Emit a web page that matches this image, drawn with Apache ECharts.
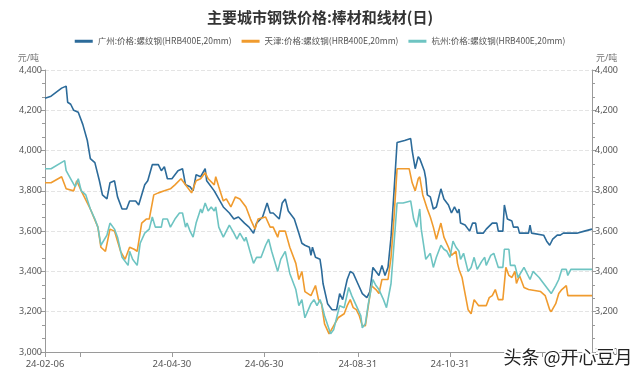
<!DOCTYPE html>
<html><head><meta charset="utf-8">
<script src="https://cdn.jsdelivr.net/npm/echarts@6/dist/echarts.min.js"></script>
<style>html,body{margin:0;padding:0;background:#fff}#c{width:640px;height:380px}</style>
</head><body><div id="c"></div>
<script>
const titleText = '主要城市钢铁价格:棒材和线材(日)';
const seriesNames = ['广州:价格:螺纹钢(HRB400E,20mm)', '天津:价格:螺纹钢(HRB400E,20mm)', '杭州:价格:螺纹钢(HRB400E,20mm)'];
const seriesColors = ['#2c6b9a', '#f09b2e', '#6ec4c2'];
const startDate = '2024-02-06';
const endDate = '2025-02-02';
const labelDates = ['2024-02-06', '2024-04-30', '2024-06-30', '2024-08-31', '2024-10-31'];
const tickDates = ['2024-02-06', '2024-02-29', '2024-04-30', '2024-06-30', '2024-08-31', '2024-10-31', '2024-12-31'];
const yTicks = [3000, 3200, 3400, 3600, 3800, 4000, 4200, 4400];

const guangzhou = [['2024-02-06',4260],['2024-02-10',4270],['2024-02-17',4310],['2024-02-20',4320],['2024-02-21',4240],['2024-02-23',4230],['2024-02-25',4200],['2024-02-28',4190],['2024-03-02',4130],['2024-03-05',4050],['2024-03-07',3960],['2024-03-10',3940],['2024-03-13',3850],['2024-03-15',3780],['2024-03-18',3760],['2024-03-20',3840],['2024-03-23',3850],['2024-03-25',3770],['2024-03-28',3710],['2024-03-31',3710],['2024-04-02',3750],['2024-04-06',3750],['2024-04-08',3730],['2024-04-12',3830],['2024-04-14',3850],['2024-04-17',3930],['2024-04-21',3930],['2024-04-23',3900],['2024-04-25',3920],['2024-04-27',3860],['2024-04-30',3860],['2024-05-04',3900],['2024-05-07',3910],['2024-05-09',3830],['2024-05-12',3820],['2024-05-14',3800],['2024-05-16',3880],['2024-05-19',3870],['2024-05-22',3910],['2024-05-23',3850],['2024-05-28',3800],['2024-05-31',3760],['2024-06-03',3720],['2024-06-07',3690],['2024-06-10',3660],['2024-06-13',3670],['2024-06-17',3640],['2024-06-20',3620],['2024-06-23',3590],['2024-06-25',3640],['2024-06-29',3670],['2024-07-02',3740],['2024-07-04',3690],['2024-07-06',3690],['2024-07-10',3660],['2024-07-12',3740],['2024-07-14',3760],['2024-07-16',3700],['2024-07-20',3660],['2024-07-23',3590],['2024-07-25',3540],['2024-07-27',3530],['2024-07-30',3520],['2024-07-31',3480],['2024-08-01',3520],['2024-08-03',3470],['2024-08-06',3460],['2024-08-07',3410],['2024-08-08',3340],['2024-08-11',3240],['2024-08-14',3210],['2024-08-17',3210],['2024-08-19',3290],['2024-08-21',3260],['2024-08-24',3360],['2024-08-26',3400],['2024-08-28',3390],['2024-08-31',3340],['2024-09-03',3290],['2024-09-06',3270],['2024-09-08',3300],['2024-09-10',3420],['2024-09-12',3400],['2024-09-14',3380],['2024-09-16',3430],['2024-09-18',3380],['2024-09-20',3420],['2024-09-22',3570],['2024-09-24',3800],['2024-09-26',4040],['2024-10-01',4050],['2024-10-05',4060],['2024-10-06',4000],['2024-10-08',3910],['2024-10-10',3970],['2024-10-11',3960],['2024-10-14',3900],['2024-10-15',3860],['2024-10-16',3780],['2024-10-18',3770],['2024-10-20',3710],['2024-10-22',3720],['2024-10-25',3810],['2024-10-27',3760],['2024-10-30',3730],['2024-11-01',3690],['2024-11-03',3720],['2024-11-05',3690],['2024-11-06',3710],['2024-11-07',3640],['2024-11-10',3630],['2024-11-13',3600],['2024-11-15',3640],['2024-11-17',3640],['2024-11-18',3590],['2024-11-22',3590],['2024-11-24',3610],['2024-11-28',3640],['2024-12-01',3640],['2024-12-02',3600],['2024-12-05',3600],['2024-12-06',3730],['2024-12-08',3660],['2024-12-11',3650],['2024-12-12',3620],['2024-12-15',3620],['2024-12-16',3590],['2024-12-22',3590],['2024-12-23',3630],['2024-12-24',3590],['2025-01-01',3580],['2025-01-03',3550],['2025-01-05',3530],['2025-01-07',3560],['2025-01-10',3580],['2025-01-12',3580],['2025-01-14',3590],['2025-01-23',3590],['2025-01-28',3600],['2025-02-02',3610]];

const tianjin = [['2024-02-06',3840],['2024-02-10',3840],['2024-02-17',3870],['2024-02-20',3810],['2024-02-25',3800],['2024-02-27',3850],['2024-03-01',3800],['2024-03-07',3710],['2024-03-12',3620],['2024-03-14',3520],['2024-03-17',3500],['2024-03-20',3610],['2024-03-23',3600],['2024-03-27',3500],['2024-03-30',3460],['2024-04-02',3520],['2024-04-05',3510],['2024-04-07',3500],['2024-04-10',3640],['2024-04-13',3660],['2024-04-15',3660],['2024-04-18',3780],['2024-04-21',3790],['2024-04-25',3800],['2024-04-29',3810],['2024-05-02',3830],['2024-05-06',3860],['2024-05-08',3840],['2024-05-09',3830],['2024-05-13',3790],['2024-05-16',3850],['2024-05-19',3860],['2024-05-22',3890],['2024-05-24',3860],['2024-05-28',3830],['2024-05-29',3870],['2024-05-31',3820],['2024-06-03',3750],['2024-06-05',3760],['2024-06-08',3720],['2024-06-11',3770],['2024-06-14',3760],['2024-06-18',3720],['2024-06-21',3660],['2024-06-24',3610],['2024-06-26',3660],['2024-07-01',3670],['2024-07-04',3620],['2024-07-06',3620],['2024-07-09',3570],['2024-07-10',3600],['2024-07-14',3600],['2024-07-17',3520],['2024-07-21',3440],['2024-07-23',3360],['2024-07-25',3400],['2024-07-27',3300],['2024-07-31',3280],['2024-08-03',3330],['2024-08-05',3260],['2024-08-07',3240],['2024-08-09',3140],['2024-08-12',3090],['2024-08-15',3130],['2024-08-18',3170],['2024-08-22',3190],['2024-08-24',3230],['2024-08-26',3260],['2024-08-28',3220],['2024-08-30',3210],['2024-09-01',3180],['2024-09-03',3130],['2024-09-05',3130],['2024-09-07',3230],['2024-09-09',3330],['2024-09-12',3310],['2024-09-14',3290],['2024-09-16',3360],['2024-09-20',3360],['2024-09-22',3470],['2024-09-24',3670],['2024-09-26',3910],['2024-10-04',3910],['2024-10-06',3840],['2024-10-08',3800],['2024-10-10',3860],['2024-10-11',3870],['2024-10-13',3780],['2024-10-16',3710],['2024-10-18',3670],['2024-10-20',3620],['2024-10-22',3560],['2024-10-25',3640],['2024-10-27',3570],['2024-10-30',3520],['2024-11-01',3480],['2024-11-04',3500],['2024-11-05',3440],['2024-11-06',3410],['2024-11-08',3370],['2024-11-09',3330],['2024-11-12',3210],['2024-11-14',3190],['2024-11-16',3260],['2024-11-17',3260],['2024-11-19',3230],['2024-11-24',3230],['2024-11-26',3270],['2024-11-28',3280],['2024-11-30',3310],['2024-12-02',3260],['2024-12-05',3260],['2024-12-07',3420],['2024-12-09',3380],['2024-12-11',3370],['2024-12-13',3400],['2024-12-14',3340],['2024-12-16',3380],['2024-12-19',3320],['2024-12-22',3310],['2024-12-30',3300],['2025-01-02',3280],['2025-01-05',3210],['2025-01-06',3200],['2025-01-09',3240],['2025-01-11',3290],['2025-01-13',3310],['2025-01-16',3330],['2025-01-17',3280],['2025-02-02',3280]];

const hangzhou = [['2024-02-06',3910],['2024-02-10',3910],['2024-02-19',3950],['2024-02-20',3900],['2024-02-23',3860],['2024-02-26',3820],['2024-02-28',3860],['2024-03-01',3800],['2024-03-04',3780],['2024-03-07',3710],['2024-03-10',3660],['2024-03-12',3620],['2024-03-14',3530],['2024-03-18',3580],['2024-03-20',3640],['2024-03-23',3610],['2024-03-25',3570],['2024-03-28',3470],['2024-04-01',3430],['2024-04-02',3500],['2024-04-04',3460],['2024-04-07',3430],['2024-04-09',3540],['2024-04-12',3590],['2024-04-15',3610],['2024-04-17',3670],['2024-04-19',3620],['2024-04-23',3620],['2024-04-24',3660],['2024-04-27',3660],['2024-04-29',3620],['2024-05-02',3660],['2024-05-05',3690],['2024-05-07',3690],['2024-05-09',3620],['2024-05-10',3640],['2024-05-12',3600],['2024-05-14',3570],['2024-05-16',3640],['2024-05-19',3710],['2024-05-20',3690],['2024-05-22',3740],['2024-05-24',3700],['2024-05-26',3720],['2024-05-28',3700],['2024-05-29',3720],['2024-05-31',3620],['2024-06-03',3570],['2024-06-07',3630],['2024-06-10',3590],['2024-06-12',3560],['2024-06-14',3590],['2024-06-17',3550],['2024-06-18',3570],['2024-06-21',3490],['2024-06-23',3440],['2024-06-25',3470],['2024-06-28',3470],['2024-07-01',3530],['2024-07-03',3560],['2024-07-05',3500],['2024-07-09',3400],['2024-07-11',3460],['2024-07-14',3500],['2024-07-17',3390],['2024-07-21',3310],['2024-07-23',3230],['2024-07-25',3260],['2024-07-27',3170],['2024-07-31',3240],['2024-08-02',3260],['2024-08-04',3230],['2024-08-06',3260],['2024-08-07',3240],['2024-08-09',3180],['2024-08-13',3090],['2024-08-15',3110],['2024-08-17',3170],['2024-08-19',3230],['2024-08-22',3220],['2024-08-25',3320],['2024-08-27',3280],['2024-08-30',3230],['2024-09-02',3180],['2024-09-03',3120],['2024-09-05',3140],['2024-09-07',3240],['2024-09-10',3360],['2024-09-12',3330],['2024-09-14',3310],['2024-09-17',3260],['2024-09-19',3220],['2024-09-22',3340],['2024-09-24',3540],['2024-09-26',3740],['2024-09-30',3740],['2024-10-05',3750],['2024-10-07',3660],['2024-10-09',3620],['2024-10-11',3710],['2024-10-12',3610],['2024-10-15',3460],['2024-10-18',3490],['2024-10-20',3420],['2024-10-22',3470],['2024-10-25',3530],['2024-10-27',3510],['2024-10-29',3500],['2024-10-31',3470],['2024-11-02',3550],['2024-11-04',3520],['2024-11-06',3500],['2024-11-07',3460],['2024-11-09',3490],['2024-11-12',3400],['2024-11-14',3420],['2024-11-16',3470],['2024-11-18',3410],['2024-11-21',3450],['2024-11-23',3470],['2024-11-24',3430],['2024-11-27',3480],['2024-11-29',3490],['2024-12-02',3420],['2024-12-05',3420],['2024-12-06',3510],['2024-12-09',3510],['2024-12-10',3430],['2024-12-13',3430],['2024-12-15',3370],['2024-12-19',3420],['2024-12-23',3360],['2024-12-25',3400],['2024-12-29',3370],['2025-01-01',3340],['2025-01-04',3310],['2025-01-06',3290],['2025-01-09',3330],['2025-01-11',3360],['2025-01-13',3410],['2025-01-16',3410],['2025-01-17',3380],['2025-01-19',3410],['2025-02-02',3410]];

const watermarkText = '头条 @开心豆月';

function ts(s){ const p = s.split('-').map(Number); return Date.UTC(p[0], p[1]-1, p[2]); }
function pad(n){ return (n < 10 ? '0' : '') + n; }
function fmtDate(v){ const d = new Date(v); return String(d.getUTCFullYear()).slice(2) + '-' + pad(d.getUTCMonth()+1) + '-' + pad(d.getUTCDate()); }
function fmtNum(v){ return String(v).replace(/\B(?=(\d{3})+(?!\d))/g, ','); }

const allSeries = [guangzhou, tianjin, hangzhou];
const FONT = "'Noto Sans', 'Noto Sans CJK SC', sans-serif";

const chart = echarts.init(document.getElementById('c'), null, {renderer: 'canvas'});
const yAxisBase = (pos) => ({
  type: 'value', position: pos, min: yTicks[0], max: yTicks[yTicks.length-1], interval: 200,
  name: '元/吨', nameGap: 7,
  nameTextStyle: {color: '#777', fontSize: 9, align: pos === 'left' ? 'right' : 'left', padding: pos === 'left' ? [0, 6, 0, 0] : [0, 0, 0, 4], fontFamily: FONT},
  axisLine: {show: true, lineStyle: {color: '#9a9a9a'}},
  axisTick: {show: true, length: 4, lineStyle: {color: '#9a9a9a'}},
  minorTick: {show: true, splitNumber: 3, length: 3, lineStyle: {color: '#9a9a9a'}},
  axisLabel: {color: '#555', fontSize: 9, margin: 3, formatter: fmtNum, fontFamily: FONT},
  splitLine: {show: pos === 'left', lineStyle: {type: 'dashed', color: '#e4e4e4'}}
});

chart.setOption({
  backgroundColor: '#fff',
  textStyle: {fontFamily: FONT},
  title: {text: titleText, left: 'center', top: 5, textStyle: {fontSize: 15, fontWeight: 'bold', color: '#333', fontFamily: "'Noto Sans CJK SC', sans-serif"}},
  legend: {top: 32, left: 'center', icon: 'rect', itemWidth: 18, itemHeight: 3, itemGap: 10,
    textStyle: {fontSize: 8.5, color: '#555', fontFamily: "'Noto Sans CJK SC', sans-serif"},
    data: seriesNames},
  grid: {left: 45, right: 48, top: 70, bottom: 28},
  xAxis: {
    type: 'value', min: ts(startDate), max: ts(endDate),
    axisLine: {show: true, onZero: false, lineStyle: {color: '#9a9a9a'}},
    axisTick: {show: true, length: 5, customValues: tickDates.map(ts), lineStyle: {color: '#9a9a9a'}},
    axisLabel: {customValues: labelDates.map(ts), formatter: fmtDate, color: '#555', fontSize: 9.5, margin: 8, fontFamily: FONT},
    splitLine: {show: false}
  },
  yAxis: [yAxisBase('left'), yAxisBase('right')],
  series: allSeries.map((data, i) => ({
    name: seriesNames[i], type: 'line', yAxisIndex: 0, symbol: 'none',
    lineStyle: {width: 1.6, color: seriesColors[i]}, itemStyle: {color: seriesColors[i]},
    data: data.map(d => [ts(d[0]), d[1]])
  })),
  graphic: [{type: 'text', right: 6, bottom: 12, z: 100,
    style: {text: watermarkText, fontSize: 18, fontFamily: "'Noto Sans CJK SC', sans-serif", fill: '#222', stroke: '#fff', lineWidth: 3}}]
});
</script></body></html>
